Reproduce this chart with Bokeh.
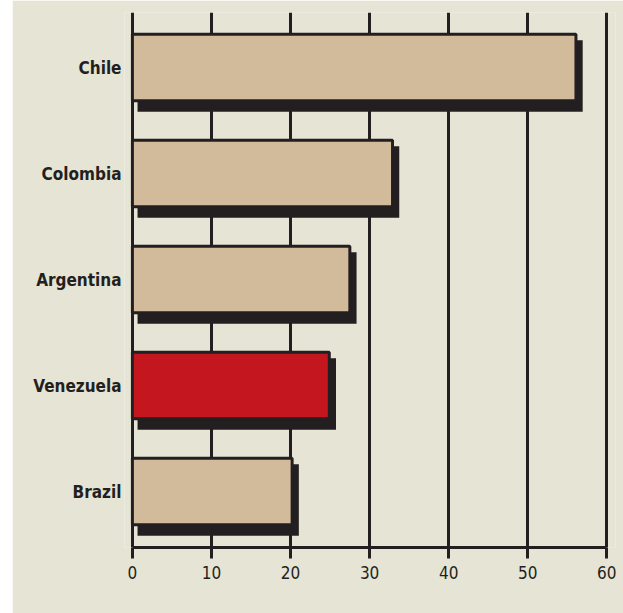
from bokeh.plotting import figure
from bokeh.models import Range1d, FixedTicker, ColumnDataSource, Spacer
from bokeh.layouts import row
from bokeh.embed import file_html
from bokeh.resources import INLINE

countries = ["Chile", "Colombia", "Argentina", "Venezuela", "Brazil"]
values = [56.1, 32.9, 27.5, 24.9, 20.2]
highlight = "Venezuela"
x_ticks = [0, 10, 20, 30, 40, 50, 60]

BG = "#e6e4d4"
TAN = "#d2bb9a"
RED = "#c3161e"
INK = "#231f20"
FONT = "'DejaVu Sans Condensed', 'Liberation Sans Narrow', 'Liberation Sans', sans-serif"

n = len(countries)
ypos = [n - 1 - i for i in range(n)]
colors = [RED if c == highlight else TAN for c in countries]

bar_h = 0.627
# shadow offsets (data units derived from pixel offsets)
sdx_l, sdx_r = 0.65, 0.85
sdy_t, sdy_b = 0.057, 0.104

src = ColumnDataSource(dict(
    y=ypos, v=values, c=colors,
    sl=[sdx_l] * n, sr=[v + sdx_r for v in values],
    st=[y + bar_h / 2 - sdy_t for y in ypos],
    sb=[y - bar_h / 2 - sdy_b for y in ypos],
))

p = figure(width=611, height=613, output_backend="svg", toolbar_location=None,
           x_range=Range1d(-1.0, 61.1), y_range=Range1d(-0.528, 4.519),
           min_border_left=112, min_border_right=8, min_border_top=12,
           min_border_bottom=66)
p.background_fill_color = BG
p.border_fill_color = BG
p.outline_line_color = None

p.quad(left="sl", right="sr", top="st", bottom="sb", source=src,
       fill_color=INK, line_color=None)
p.hbar(y="y", left=0, right="v", height=bar_h, source=src,
       fill_color="c", line_color=INK, line_width=3)

p.xaxis.ticker = FixedTicker(ticks=x_ticks)
p.xaxis.bounds = (x_ticks[0], x_ticks[-1])
p.xaxis.axis_line_width = 3
p.xaxis.axis_line_color = INK
p.xaxis.major_tick_line_width = 3
p.xaxis.major_tick_line_color = INK
p.xaxis.major_tick_out = 11
p.xaxis.major_tick_in = 0
p.xaxis.minor_tick_line_color = None
p.xaxis.major_label_standoff = 7
p.xaxis.major_label_text_font = FONT
p.xaxis.major_label_text_font_size = "17px"
p.xaxis.major_label_text_color = INK

p.xgrid.ticker = FixedTicker(ticks=x_ticks)
p.xgrid.grid_line_color = INK
p.xgrid.grid_line_width = 3
p.ygrid.grid_line_color = None

p.yaxis.ticker = FixedTicker(ticks=ypos)
p.yaxis.major_label_overrides = {y: c for y, c in zip(ypos, countries)}
p.yaxis.axis_line_color = None
p.yaxis.major_tick_line_color = None
p.yaxis.minor_tick_line_color = None
p.yaxis.major_tick_out = 0
p.yaxis.major_tick_in = 0
p.yaxis.major_label_standoff = 3
p.yaxis.major_label_text_font = FONT
p.yaxis.major_label_text_font_size = "17px"
p.yaxis.major_label_text_font_style = "bold"
p.yaxis.major_label_text_color = INK

layout = row(Spacer(width=12, height=613), p)
open("out.html", "w").write(file_html(layout, INLINE))
